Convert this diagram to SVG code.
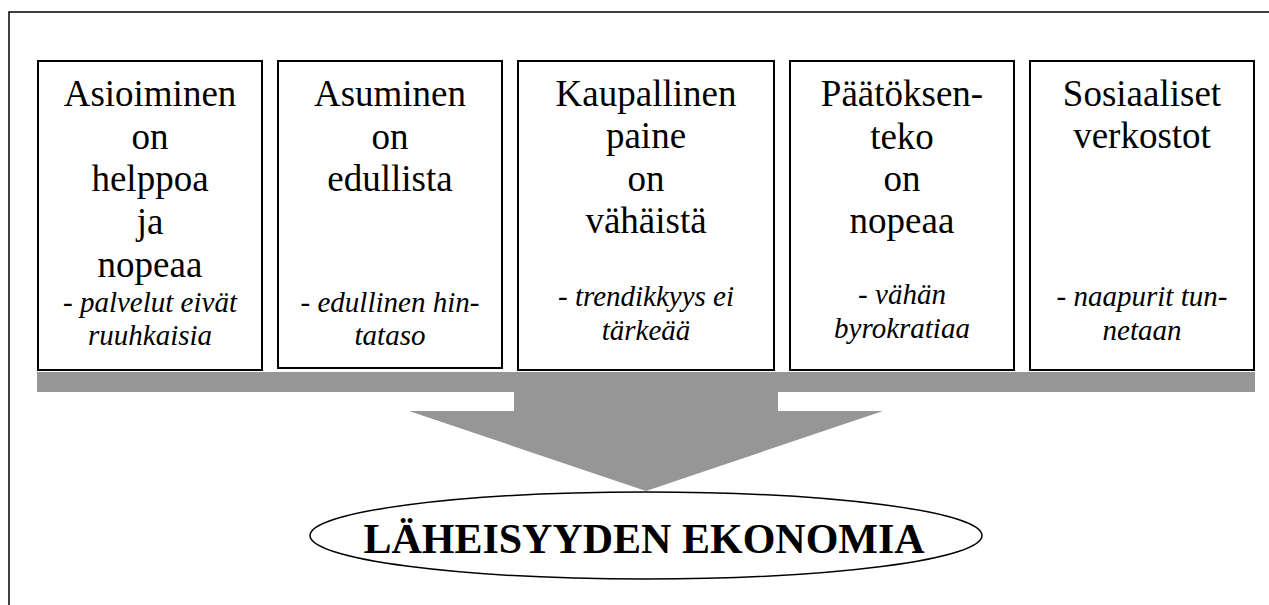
<svg xmlns="http://www.w3.org/2000/svg" width="1269" height="605" viewBox="0 0 1269 605">
<style>
.box{fill:#fff;stroke:#000;stroke-width:2}
.t{font-family:"Liberation Serif","Times New Roman",serif;font-size:37px;fill:#000;text-anchor:middle}
.s{font-family:"Liberation Serif","Times New Roman",serif;font-size:29px;font-style:italic;fill:#000;text-anchor:middle}
.big{font-family:"Liberation Serif","Times New Roman",serif;font-size:42px;font-weight:bold;fill:#000;text-anchor:middle}
.arrow{fill:#969696;stroke:none}
</style>
<rect width="1269" height="605" fill="#fff"/>
<path d="M9,605 V12 H1269" fill="none" stroke="#000" stroke-width="1.5"/>
<g id="connectors">
  <path class="arrow" d="M37,372 H1255 V392 H778 V411 H883 L646,491 L409,411 H514 V392 H37 Z"/>
</g>
<g id="node1">
  <rect class="box" x="38" y="61" width="224" height="309"/>
  <text class="t" x="150" y="106">Asioiminen</text>
  <text class="t" x="150" y="149">on</text>
  <text class="t" x="150" y="191">helppoa</text>
  <text class="t" x="150" y="234">ja</text>
  <text class="t" x="150" y="277">nopeaa</text>
  <text class="s" x="150" y="312">- palvelut eivät</text>
  <text class="s" x="150" y="345">ruuhkaisia</text>
</g>
<g id="node2">
  <rect class="box" x="278" y="61" width="224" height="307"/>
  <text class="t" x="390" y="106">Asuminen</text>
  <text class="t" x="390" y="149">on</text>
  <text class="t" x="390" y="191">edullista</text>
  <text class="s" x="390" y="312">- edullinen hin-</text>
  <text class="s" x="390" y="345">tataso</text>
</g>
<g id="node3">
  <rect class="box" x="518" y="61" width="256" height="309"/>
  <text class="t" x="646" y="106">Kaupallinen</text>
  <text class="t" x="646" y="148">paine</text>
  <text class="t" x="646" y="191">on</text>
  <text class="t" x="646" y="233">vähäistä</text>
  <text class="s" x="646" y="306">- trendikkyys ei</text>
  <text class="s" x="646" y="340">tärkeää</text>
</g>
<g id="node4">
  <rect class="box" x="790" y="61" width="224" height="309"/>
  <text class="t" x="902" y="106">Päätöksen-</text>
  <text class="t" x="902" y="149">teko</text>
  <text class="t" x="902" y="191">on</text>
  <text class="t" x="902" y="233">nopeaa</text>
  <text class="s" x="902" y="304">- vähän</text>
  <text class="s" x="902" y="338">byrokratiaa</text>
</g>
<g id="node5">
  <rect class="box" x="1030" y="61" width="224" height="309"/>
  <text class="t" x="1142" y="106">Sosiaaliset</text>
  <text class="t" x="1142" y="148">verkostot</text>
  <text class="s" x="1142" y="306">- naapurit tun-</text>
  <text class="s" x="1142" y="340">netaan</text>
</g>
<g id="result">
  <ellipse cx="646" cy="535.5" rx="336" ry="43.5" fill="#fff" stroke="#000" stroke-width="1.5"/>
  <text class="big" x="644" y="553">LÄHEISYYDEN EKONOMIA</text>
</g>
</svg>
